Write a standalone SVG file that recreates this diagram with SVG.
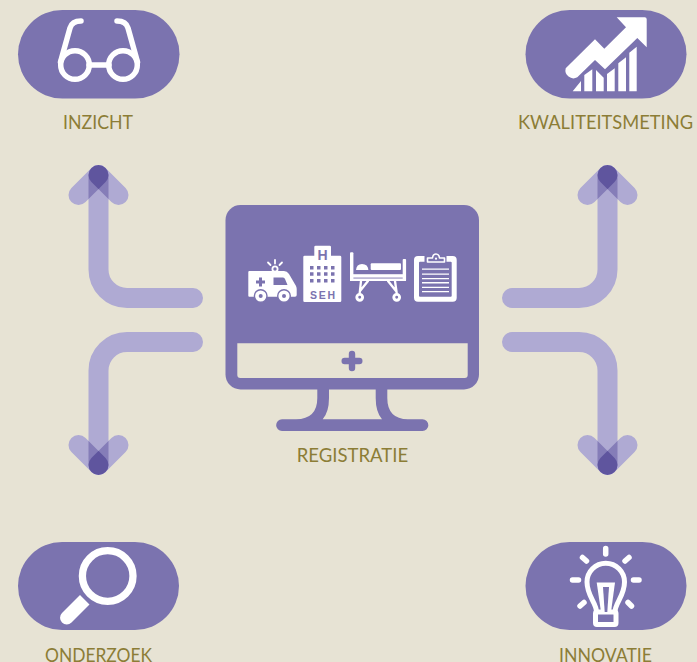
<svg xmlns="http://www.w3.org/2000/svg" width="697" height="662" viewBox="0 0 697 662">
<style>
.pill{fill:#7b73af}
.w{fill:#fff}
.p{fill:#7b73af}
.ws{fill:none;stroke:#fff;stroke-linecap:round;stroke-linejoin:round}
.lbl{font-family:"Lato","Open Sans","Liberation Sans",sans-serif;font-size:19.5px;fill:#8c7d36}
.c1{fill:#afaad3}
.c2{fill:#857db8}
.c3{fill:#5f559e}
.line{fill:none;stroke:#afaad3;stroke-width:20;stroke-linecap:round}
</style>
<defs>
<clipPath id="armL"><rect x="-10" y="-10" width="48.3" height="20" rx="10" transform="rotate(135)"/></clipPath>
<clipPath id="armR"><rect x="-10" y="-10" width="48.3" height="20" rx="10" transform="rotate(45)"/></clipPath>
<g id="head">
<rect class="c1" x="-10" y="-10" width="48.3" height="20" rx="10" transform="rotate(135)"/>
<rect class="c1" x="-10" y="-10" width="48.3" height="20" rx="10" transform="rotate(45)"/>
<rect class="c2" x="-10" y="-10" width="20" height="70" rx="10" clip-path="url(#armL)"/>
<rect class="c2" x="-10" y="-10" width="20" height="70" rx="10" clip-path="url(#armR)"/>
<g clip-path="url(#armR)"><rect class="c2" x="-10" y="-10" width="48.3" height="20" rx="10" transform="rotate(135)"/></g>
<g clip-path="url(#armR)"><rect class="c3" x="-10" y="-10" width="20" height="70" rx="10" clip-path="url(#armL)"/></g>
</g>
</defs>
<rect width="697" height="662" fill="#e7e3d4"/>

<g id="connectors">
<path class="line" d="M193 298H127A28.500 28.500 0 0 1 98.500 269.500V175"/>
<path class="line" d="M193 342H127A28.500 28.500 0 0 0 98.500 370.500V465"/>
<path class="line" d="M512 298H579A28.500 28.500 0 0 0 607.500 269.500V175"/>
<path class="line" d="M512 342H579A28.500 28.500 0 0 1 607.500 370.500V465"/>
<use href="#head" transform="translate(98.500 175)"/>
<use href="#head" transform="translate(607.500 175)"/>
<use href="#head" transform="translate(98.500 465) scale(1 -1)"/>
<use href="#head" transform="translate(607.500 465) scale(1 -1)"/>
</g>

<g id="inzicht">
<rect class="pill" x="18" y="10" width="161.500" height="88.500" rx="44.250"/>
<g class="ws" stroke-width="5.500">
<circle cx="75" cy="65" r="14.300"/>
<circle cx="123" cy="65" r="14.300"/>
<path d="M89 65H109"/>
<path d="M60.500 62L70 28Q72 21 81 21"/>
<path d="M137.500 62L128 28Q126 21 117 21"/>
</g>
<text class="lbl" x="63" y="129" textLength="70" lengthAdjust="spacingAndGlyphs">INZICHT</text>
</g>

<g id="kwaliteitsmeting">
<rect class="pill" x="525.500" y="10" width="161" height="88.500" rx="44.250"/>
<path class="w" d="M565.700 68.300L595 39.300L604.300 48.700L626 27.300L616.700 17.300H644.700Q646.700 17.300 646.700 19.300V47.300L637.300 38L605 69.300L595 60L577.300 77.300A8 8 0 0 1 565.700 68.300Z"/>
<path class="w" d="M572.700 91.300L581 81V91.300ZM584.300 91.300V75L592.300 69.300V91.300ZM596 91.300V70L603.700 77.700V91.300ZM607 91.300V74L614.700 68.300V91.300ZM618.300 91.300V63.300L626 57.300V91.300ZM629.300 91.300V52.700L636.700 46.700V91.300Z"/>
<text class="lbl" x="518" y="129" textLength="175" lengthAdjust="spacingAndGlyphs">KWALITEITSMETING</text>
</g>

<g id="registratie">
<rect class="pill" x="225.500" y="205" width="253.500" height="184.500" rx="15"/>
<path fill="#e7e3d4" d="M237.300 343.300H467.700V375A3 3 0 0 1 464.700 378H240.300A3 3 0 0 1 237.300 375Z"/>
<path class="p" d="M341.500 361A3.200 3.200 0 0 1 344.700 357.800H348.800V354A3.200 3.200 0 0 1 355.200 354V357.800H359.300A3.200 3.200 0 0 1 359.300 364.200H355.200V368A3.200 3.200 0 0 1 348.800 368V364.200H344.700A3.200 3.200 0 0 1 341.500 361Z"/>
<path class="p" d="M317.300 388V398Q317.300 419 296 419.300H282A5.800 5.800 0 0 0 282 431H422.500A5.800 5.800 0 0 0 422.500 419.300H408Q387.300 419 387.300 398V388H375.700V398Q375.700 412 382 419.300H322.700Q329 412 329 398V388Z"/>
<g id="ambulance">
<path class="w" d="M249.300 271H284Q287 271 289 274L296 286Q296.700 287.500 296.700 289V295Q296.700 296.700 295 296.700H249.300Q248.300 296.700 248.300 295.700V272Q248.300 271 249.300 271Z"/>
<circle cx="275" cy="269" r="2.600" fill="#7b73af" stroke="#fff" stroke-width="1.800"/>
<path class="ws" stroke-width="1.800" d="M275 260V263.500M268 262.500L270.500 265M282 262.500L279.500 265"/>
<path class="p" d="M273.500 277.500H283Q284.500 277.500 285 279L287.500 285H273.500Z"/>
<path class="p" d="M259 277.500H262V280.500H265V283.500H262V286.500H259V283.500H256V280.500H259Z"/>
<circle class="w" cx="260.700" cy="296" r="6.300" stroke="#7b73af" stroke-width="1.400"/>
<circle class="w" cx="284" cy="296" r="6.300" stroke="#7b73af" stroke-width="1.400"/>
<circle class="p" cx="260.700" cy="296" r="2"/>
<circle class="p" cx="284" cy="296" r="2"/>
</g>
<g id="hospital">
<path class="w" d="M314.300 255.700V247Q314.300 245.700 315.600 245.700H329.700Q331 245.700 331 247V255.700H340Q341.300 255.700 341.300 257V300.700Q341.300 302 340 302H304.600Q303.300 302 303.300 300.700V257Q303.300 255.700 304.600 255.700Z"/>
<text x="322.500" y="259.500" text-anchor="middle" font-family="'Liberation Sans',sans-serif" font-weight="700" font-size="14" fill="#7b73af">H</text>
<path class="p" d="M310 266h3.500v3.500h-3.500zM317 266h3.500v3.500h-3.500zM324 266h3.500v3.500h-3.500zM331 266h3.500v3.500h-3.500zM310 272.300h3.500v3.500h-3.500zM317 272.300h3.500v3.500h-3.500zM324 272.300h3.500v3.500h-3.500zM331 272.300h3.500v3.500h-3.500zM310 279h3.500v3.500h-3.500zM317 279h3.500v3.500h-3.500zM324 279h3.500v3.500h-3.500zM331 279h3.500v3.500h-3.500z"/>
<text x="310" y="298.700" textLength="25" font-family="'Liberation Sans',sans-serif" font-weight="700" font-size="10.500" fill="#7b73af">SEH</text>
</g>
<g id="bed">
<rect class="w" x="350" y="252.300" width="3.400" height="28.700" rx="1"/>
<rect class="w" x="402.700" y="259" width="3.400" height="22" rx="1"/>
<rect class="w" x="350" y="274.200" width="56" height="3.400"/>
<rect class="w" x="350" y="278.500" width="56" height="2.500"/>
<path class="w" d="M356 270Q356.500 264 362 264Q368 264 368.400 270Z"/>
<rect class="w" x="370.700" y="263.300" width="30.300" height="6.700" rx="1"/>
<path class="ws" stroke-width="2.300" d="M361 281L359.700 293M368 281L360 291M395 281L396.700 293M388 281L396 291"/>
<circle cx="359.700" cy="297.300" r="2.900" fill="#7b73af" stroke="#fff" stroke-width="2.900"/>
<circle cx="396.700" cy="297.300" r="2.900" fill="#7b73af" stroke="#fff" stroke-width="2.900"/>
</g>
<g id="clipboard">
<rect class="w" x="414" y="256" width="42.700" height="45.700" rx="4"/>
<rect class="p" x="419" y="261.700" width="32.700" height="35" rx="1"/>
<rect class="p" x="424.500" y="253.500" width="22" height="9"/>
<path d="M427.500 262V258H432.500Q433 254 436 254Q439 254 439.500 258H444.500V262Z" fill="#7b73af" stroke="#fff" stroke-width="1.600" stroke-linejoin="round"/>
<circle class="w" cx="436" cy="258.700" r="1.100"/>
<path class="w" d="M422 268.400h27v1.300h-27zM422 273.400h27v1.300h-27zM422 278h27v1.300h-27zM422 282.100h27v1.300h-27zM422 286.700h27v1.300h-27zM422 291h27v1.300h-27z"/>
</g>
<text class="lbl" x="296.700" y="461.700" textLength="111.500" lengthAdjust="spacingAndGlyphs">REGISTRATIE</text>
</g>

<g id="onderzoek">
<rect class="pill" x="18" y="542" width="161" height="88" rx="44"/>
<circle cx="107.700" cy="576" r="25.300" fill="none" stroke="#fff" stroke-width="7.300"/>
<path class="w" d="M80 595L89.500 604.500L71.500 622.500A6.700 6.700 0 0 1 62 613Z"/>
<text class="lbl" x="45" y="661.500" textLength="107" lengthAdjust="spacingAndGlyphs">ONDERZOEK</text>
</g>

<g id="innovatie">
<rect class="pill" x="525.500" y="542" width="161" height="88" rx="44"/>
<g class="ws" stroke-width="5.500">
<path d="M605.700 548.500V554M572.500 580H578.500M633.500 580H639M582.500 557.500L586.500 561M629 557.500L625 561M580 606L584 602.500M631.500 606L628 602.500"/>
<path stroke-width="5" d="M596.500 612C596.500 603 587 596 587 582A18.700 18.700 0 0 1 624.500 582C624.500 596 615 603 615 612"/>
<rect stroke-width="5" x="595.500" y="612" width="20.500" height="12.500" rx="1.500"/>
</g>
<path class="w" d="M596.700 582.500H615L611 612H601Z"/>
<path class="p" d="M603 587H609L607.300 612H604.700Z"/>
<text class="lbl" x="559" y="661.500" textLength="93" lengthAdjust="spacingAndGlyphs">INNOVATIE</text>
</g>
</svg>
